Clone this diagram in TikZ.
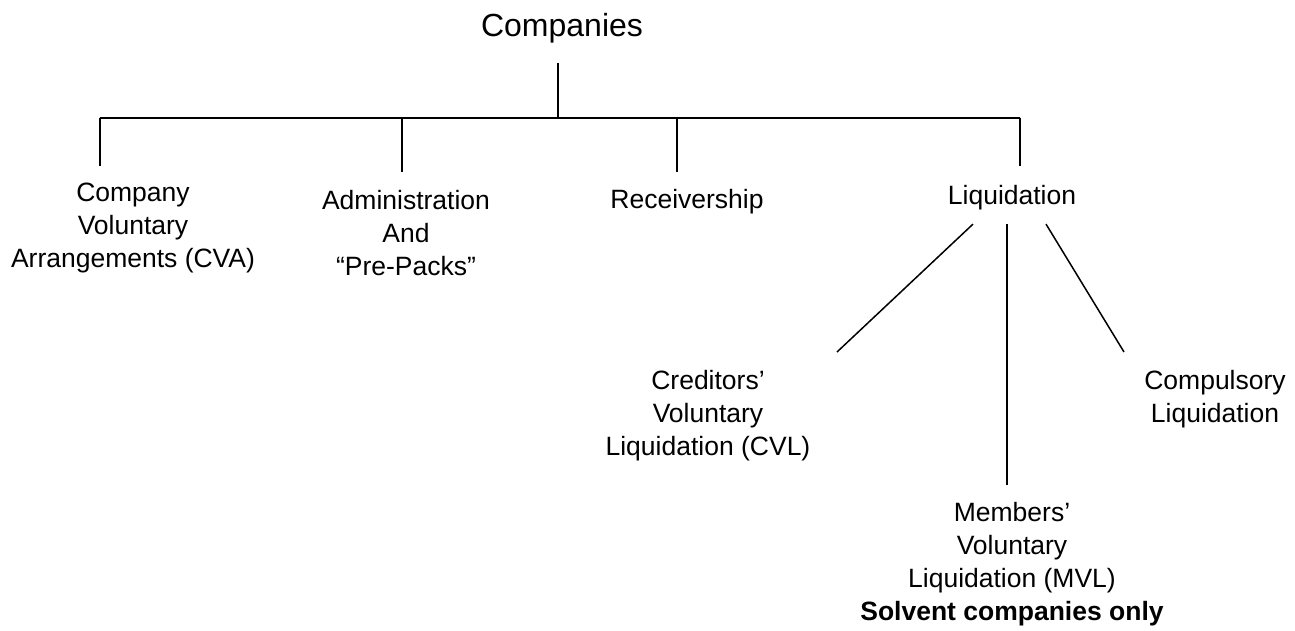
\documentclass[tikz,border=0pt]{standalone}
\usepackage{fontspec}
\setmainfont{Liberation Sans}
\usepackage{tikz}
\usetikzlibrary{calc}

\tikzset{
  branch/.style={line width=1.5pt, color=black},
  lbl/.style={align=center, inner sep=0pt, anchor=north,
    font=\fontsize{26.5}{33}\selectfont},
  toplbl/.style={inner sep=0pt, anchor=base, font=\fontsize{32}{38}\selectfont}
}

\begin{document}
\begin{tikzpicture}[x=1pt,y=1pt]
        \useasboundingbox (0,0) rectangle (1295,-631);
        % top of the tree
        \node[toplbl] (comp) at (562,-37) {Companies};
        \coordinate (hub) at (558,-118);
        \draw[branch,shorten <=19pt] (comp.south -| hub) -- (hub);
        % the four kinds
        \node[lbl] (cva) at (133,-183) {Company\\ Voluntary\\ Arrangements (CVA)};
        \node[lbl] (adm) at (406,-190) {Administration\\ And\\ “Pre-Packs”};
        \node[lbl] (rec) at (687,-189) {Receivership};
        \node[lbl] (liq) at (1012,-185) {Liquidation};
        \coordinate (tcva) at (100,-166);
        \coordinate (tadm) at (402,-172);
        \coordinate (trec) at (677,-172);
        \coordinate (tliq) at (1020,-166);
        \draw[branch] (tcva |- hub) -- (tliq |- hub);
        \foreach \t in {tcva,tadm,trec,tliq}
        \draw[branch] (\t |- hub) -- (\t);
        % kinds of liquidation
        \node[lbl] (cvl) at (708,-370) {Creditors’\\ Voluntary\\ Liquidation (CVL)};
        \node[lbl] (mvl) at (1012,-502) {Members’\\ Voluntary\\ Liquidation (MVL)\\ \textbf{Solvent companies only}};
        \node[lbl] (cmp) at (1215,-370) {Compulsory\\ Liquidation};
        \coordinate (fcvl) at ([xshift=-39pt,yshift=-14pt]liq.south);
        \coordinate (fmvl) at ([xshift=-5pt,yshift=-14pt]liq.south);
        \coordinate (fcmp) at ([xshift=34pt,yshift=-14pt]liq.south);
        \coordinate (ecvl) at (837,-352);
        \coordinate (emvl) at (fmvl |- 0,-485);
        \coordinate (ecmp) at (1124,-352);
        \draw[branch] (fcvl) -- (ecvl);
        \draw[branch] (fmvl) -- (emvl);
        \draw[branch] (fcmp) -- (ecmp);
    \end{tikzpicture}
\end{document}
